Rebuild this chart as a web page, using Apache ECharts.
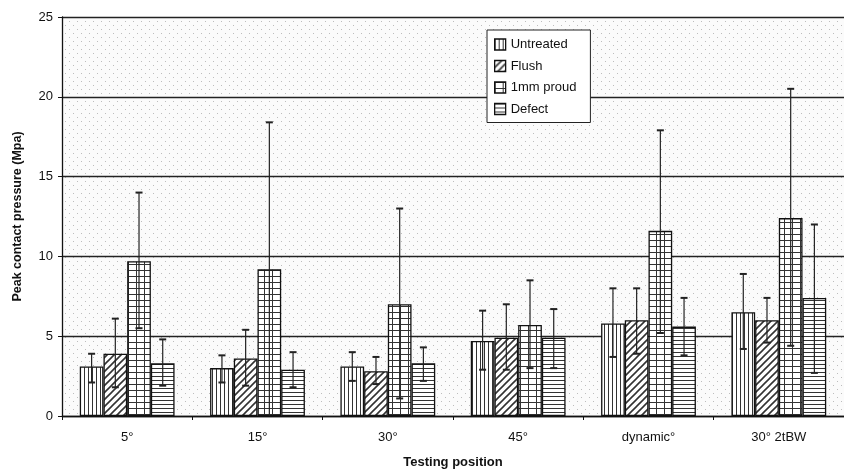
<!DOCTYPE html>
<html>
<head>
<meta charset="utf-8">
<script src="https://cdn.jsdelivr.net/npm/echarts@6/dist/echarts.min.js"></script>
<style>html,body{margin:0;padding:0;background:#fff}#c{width:844px;height:474px}</style>
</head>
<body>
<div id="c"></div>
<script>
const categories = ['5°', '15°', '30°', '45°', 'dynamic°', '30° 2tBW'];
const seriesNames = ['Untreated', 'Flush', '1mm proud', 'Defect'];
const untreated = [3.1, 3.0, 3.1, 4.7, 5.8, 6.5];
const untreatedLow = [2.1, 2.1, 2.2, 2.9, 3.7, 4.2];
const untreatedHigh = [3.9, 3.8, 4.0, 6.6, 8.0, 8.9];
const flush = [3.9, 3.6, 2.8, 4.9, 6.0, 6.0];
const flushLow = [1.8, 1.9, 2.0, 2.9, 3.9, 4.6];
const flushHigh = [6.1, 5.4, 3.7, 7.0, 8.0, 7.4];
const proud = [9.7, 9.2, 7.0, 5.7, 11.6, 12.4];
const proudLow = [5.5, 0, 1.1, 3.0, 5.2, 4.4];
const proudHigh = [14.0, 18.4, 13.0, 8.5, 17.9, 20.5];
const defect = [3.3, 2.9, 3.3, 4.9, 5.6, 7.4];
const defectLow = [1.9, 1.8, 2.2, 3.0, 3.8, 2.7];
const defectHigh = [4.8, 4.0, 4.3, 6.7, 7.4, 12.0];
const yTicks = [0, 5, 10, 15, 20, 25];

function pat(w, h, draw, bg) {
  const c = document.createElement('canvas');
  c.width = w; c.height = h;
  const g = c.getContext('2d');
  g.fillStyle = bg || '#fff';
  g.fillRect(0, 0, w, h);
  g.strokeStyle = '#333';
  g.fillStyle = '#333';
  draw(g);
  return { image: c, repeat: 'repeat' };
}
const patVertical = pat(4, 4, g => { g.lineWidth = 1; g.beginPath(); g.moveTo(0.5, 0); g.lineTo(0.5, 4); g.stroke(); });
const patDiagonal = pat(7, 7, g => {
  g.lineWidth = 1.6; g.beginPath();
  g.moveTo(-1, 8); g.lineTo(8, -1);
  g.moveTo(-4, 4); g.lineTo(4, -4);
  g.moveTo(3, 11); g.lineTo(11, 3);
  g.stroke();
});
const patGrid = pat(8, 6, g => {
  g.lineWidth = 1; g.beginPath();
  g.moveTo(0.5, 0); g.lineTo(0.5, 6);
  g.moveTo(0, 0.5); g.lineTo(8, 0.5);
  g.stroke();
});
const patHorizontal = pat(4, 4, g => { g.lineWidth = 1; g.beginPath(); g.moveTo(0, 0.5); g.lineTo(4, 0.5); g.stroke(); });
const patDots = pat(8, 8, g => {
  g.fillStyle = '#bdbdbd';
  g.fillRect(1, 1, 1, 1);
  g.fillRect(5, 5, 1, 1);
}, '#fbfbfb');

const values = [untreated, flush, proud, defect];
const lows = [untreatedLow, flushLow, proudLow, defectLow];
const highs = [untreatedHigh, flushHigh, proudHigh, defectHigh];
const fills = [patVertical, patDiagonal, patGrid, patHorizontal];
const BW = 23.7;

const series = [];
values.forEach((vals, i) => {
  series.push({
    name: seriesNames[i],
    type: 'bar',
    data: vals,
    barWidth: BW,
    barGap: '0%',
    itemStyle: { color: fills[i], borderColor: '#111', borderWidth: 1.3 },
    z: 2
  });
});
values.forEach((vals, i) => {
  const offset = (i - 1.5) * BW;
  series.push({
    type: 'custom',
    name: 'err' + i,
    silent: true,
    z: 5,
    data: vals.map((v, k) => [k, lows[i][k], highs[i][k]]),
    encode: { x: 0, y: [1, 2] },
    renderItem: function (params, api) {
      const k = api.value(0);
      const lo = api.value(1), hi = api.value(2);
      const pl = api.coord([k, lo]);
      const ph = api.coord([k, hi]);
      const x = pl[0] + offset;
      const cap = 3.5;
      const st = { stroke: '#222', lineWidth: 1.2 };
      const children = [
        { type: 'line', shape: { x1: x, y1: pl[1], x2: x, y2: ph[1] }, style: st },
        { type: 'line', shape: { x1: x - cap, y1: ph[1], x2: x + cap, y2: ph[1] }, style: { stroke: '#222', lineWidth: 2 } }
      ];
      if (lo > 0) children.push({ type: 'line', shape: { x1: x - cap, y1: pl[1], x2: x + cap, y2: pl[1] }, style: { stroke: '#222', lineWidth: 2 } });
      return { type: 'group', children: children };
    }
  });
});

const chart = echarts.init(document.getElementById('c'), null, { renderer: 'canvas' });
chart.setOption({
  animation: false,
  backgroundColor: '#fff',
  textStyle: { fontFamily: 'Liberation Sans, Arial, sans-serif' },
  grid: { left: 62, top: 17, width: 783, height: 402, show: true, backgroundColor: patDots, borderWidth: 0 },
  legend: {
    data: seriesNames,
    orient: 'vertical',
    left: 487,
    top: 30,
    padding: [8, 14, 7, 7],
    itemGap: 8.5,
    itemWidth: 11,
    itemHeight: 11,
    icon: 'rect',
    backgroundColor: '#fff',
    borderColor: '#222',
    borderWidth: 1,
    borderRadius: 0,
    textStyle: { fontSize: 13, color: '#111', fontFamily: 'Liberation Sans, Arial, sans-serif' },
    itemStyle: { borderColor: '#111', borderWidth: 1.3 }
  },
  xAxis: {
    type: 'category',
    data: categories,
    name: 'Testing position',
    nameLocation: 'middle',
    nameGap: 40,
    nameTextStyle: { fontSize: 13, fontWeight: 'bold', color: '#111' },
    axisLine: { lineStyle: { color: '#111', width: 1.3 } },
    axisTick: { show: true, length: 4, lineStyle: { color: '#111' } },
    axisLabel: { fontSize: 13, color: '#111', margin: 15 },
    splitLine: { show: false }
  },
  yAxis: {
    type: 'value',
    min: 0,
    max: 25,
    interval: 5,
    name: 'Peak contact pressure (Mpa)',
    nameLocation: 'middle',
    nameGap: 38,
    nameTextStyle: { fontSize: 12.5, fontWeight: 'bold', color: '#111' },
    axisLine: { show: true, lineStyle: { color: '#111', width: 1.3 } },
    axisTick: { show: true, length: 4, lineStyle: { color: '#111' } },
    axisLabel: { fontSize: 13, color: '#111', margin: 9, formatter: v => (yTicks.indexOf(v) >= 0 ? String(v) : '') },
    splitLine: { show: true, lineStyle: { color: '#222', width: 1.4 } }
  },
  series: series
});
</script>
</body>
</html>
